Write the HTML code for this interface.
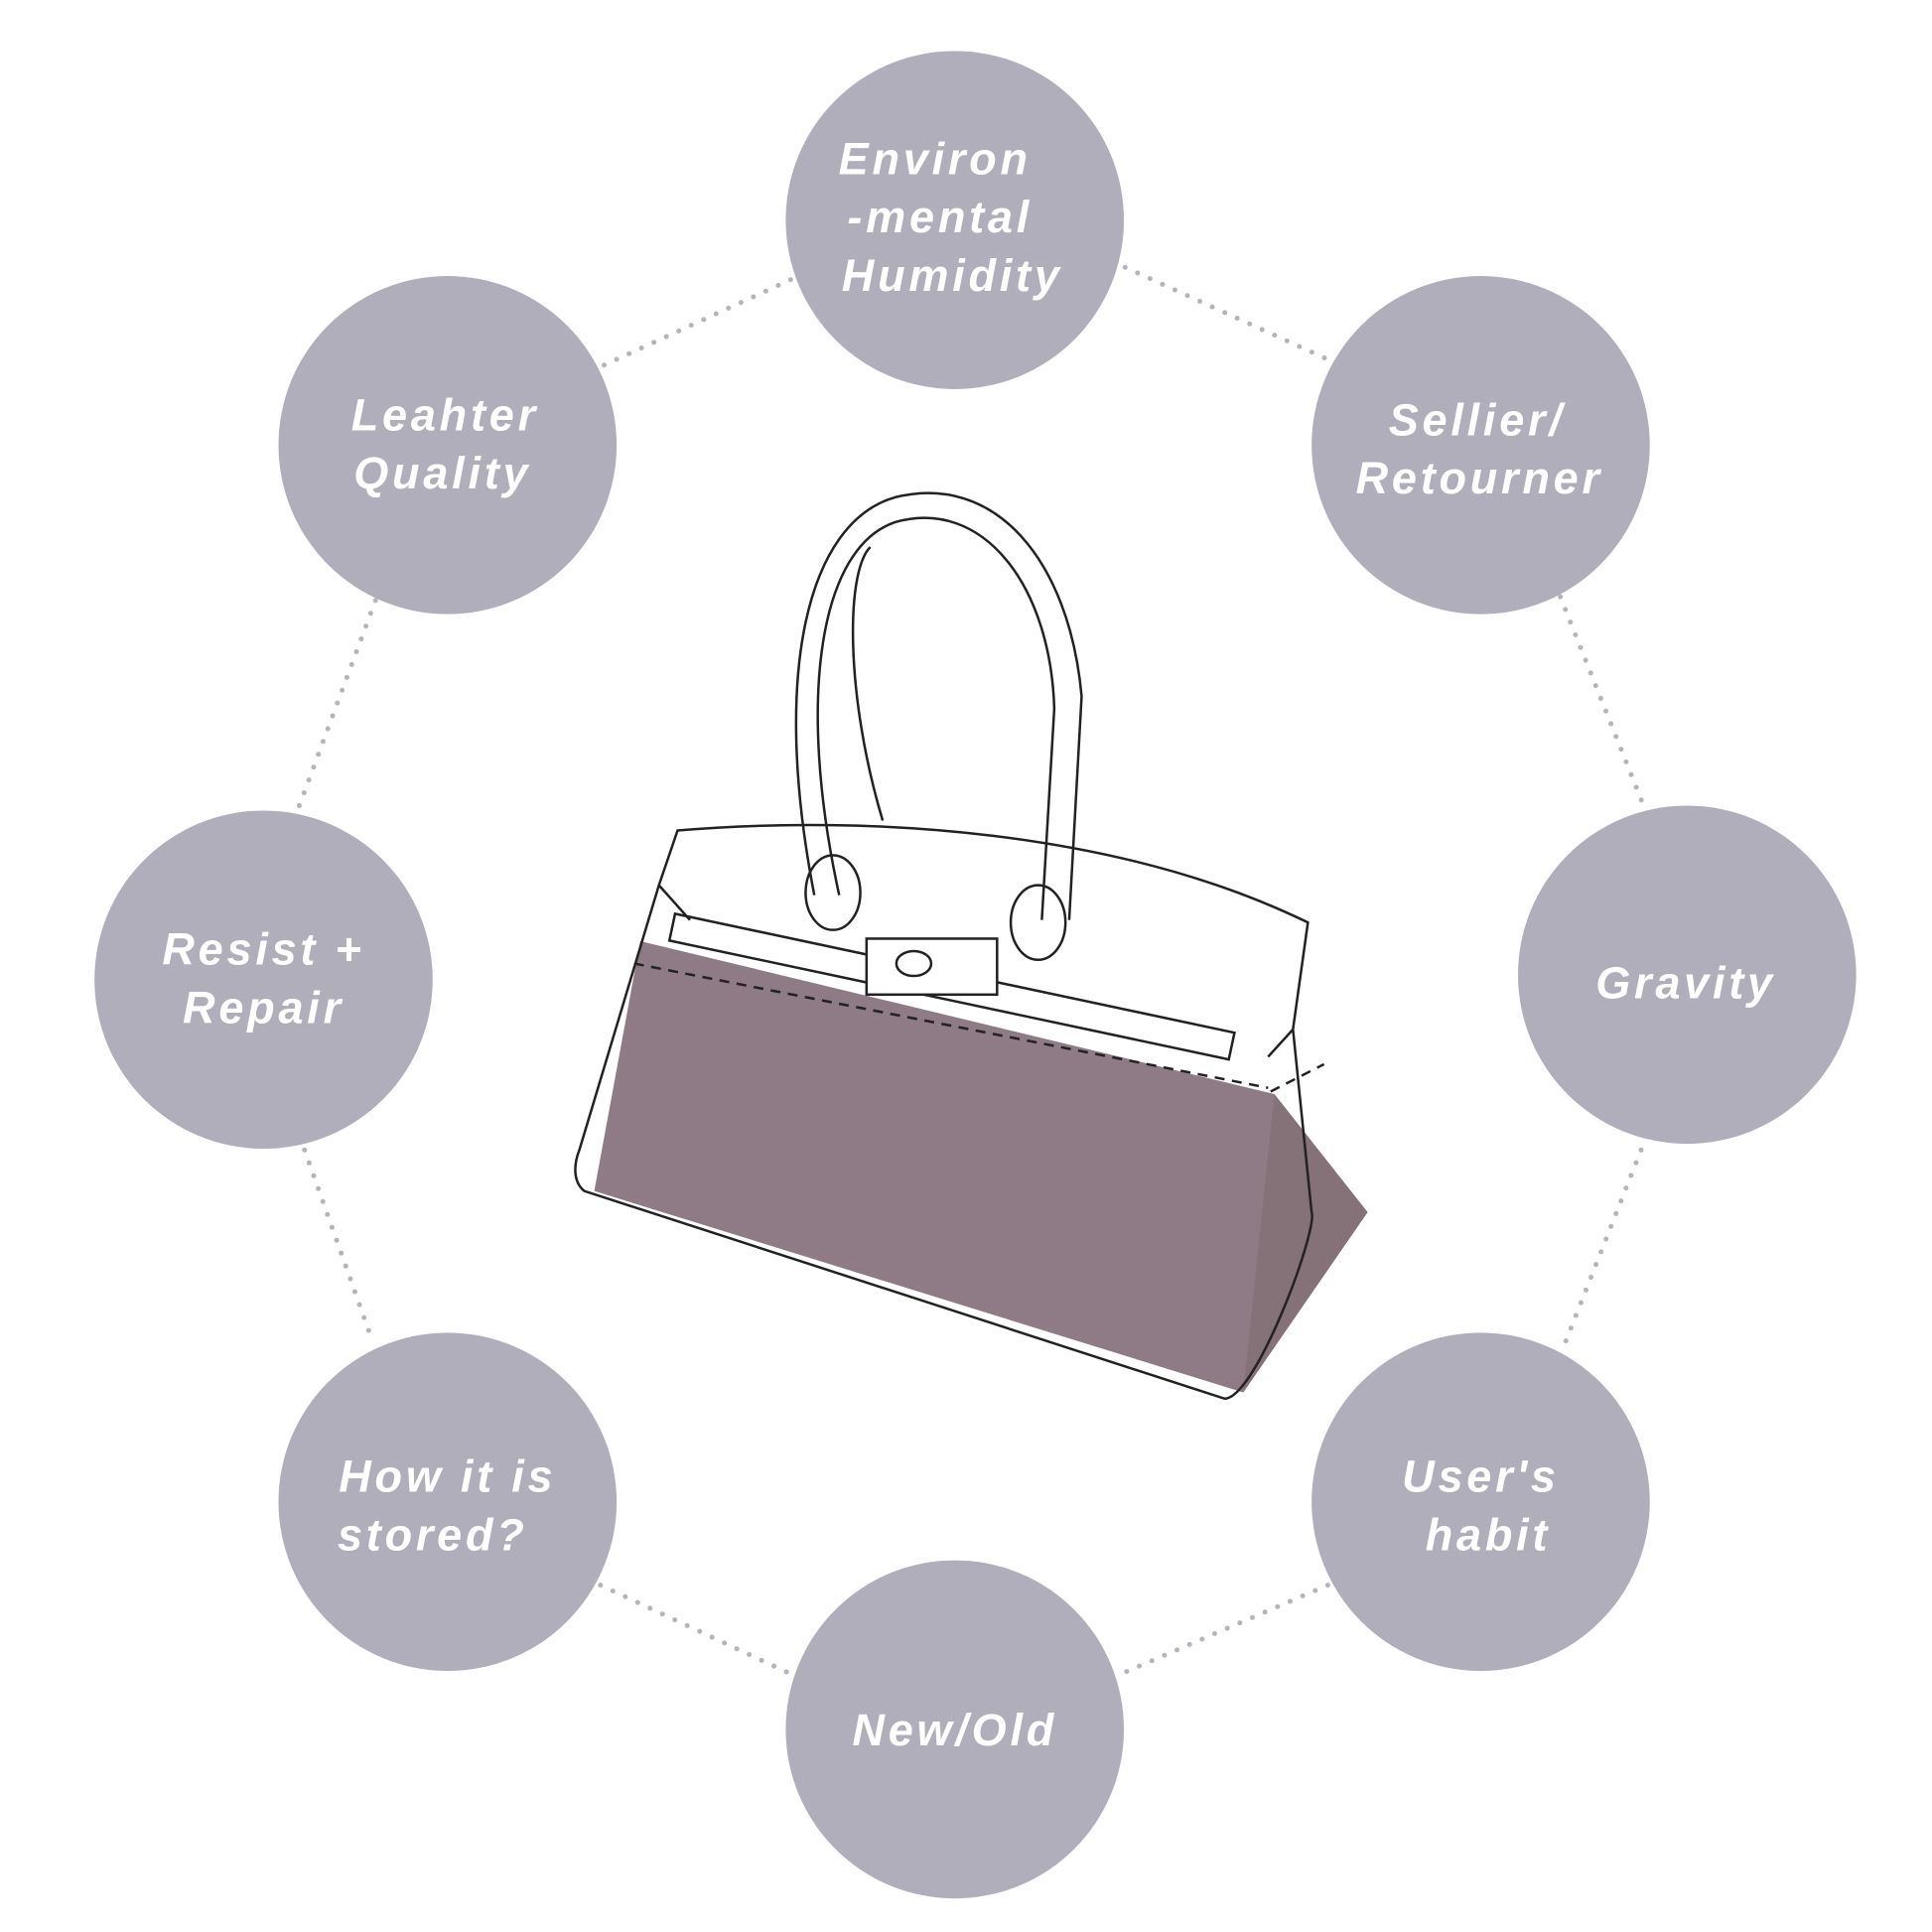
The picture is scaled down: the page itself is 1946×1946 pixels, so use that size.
<!DOCTYPE html>
<html><head><meta charset="utf-8"><style>
html,body{margin:0;padding:0;background:#fff;}
svg{display:block}
text{font-family:"Liberation Sans","DejaVu Sans",sans-serif;font-weight:bold;font-style:italic;fill:#fff;font-size:36px;letter-spacing:3px;text-anchor:middle}
</style></head><body>
<svg width="1946" height="1946" viewBox="0 0 1554 1554" xmlns="http://www.w3.org/2000/svg">
<g stroke="#b4b4bc" stroke-width="4" stroke-linecap="round" stroke-dasharray="0 11" fill="none">
<line x1="636" y1="225" x2="483" y2="295"/>
<line x1="905" y1="215" x2="1070" y2="290"/>
<line x1="302" y1="483" x2="240" y2="650"/>
<line x1="1255" y1="480" x2="1322" y2="648"/>
<line x1="245" y1="925" x2="300" y2="1080"/>
<line x1="1320" y1="925" x2="1257" y2="1085"/>
<line x1="483" y1="1275" x2="633" y2="1345"/>
<line x1="1068" y1="1275" x2="905" y2="1345"/>
</g>
<g fill="#b0aebb">
<circle cx="768" cy="177" r="136"/>
<circle cx="360" cy="358" r="136"/>
<circle cx="1191" cy="358" r="136"/>
<circle cx="212" cy="788" r="136"/>
<circle cx="1357" cy="784" r="136"/>
<circle cx="360" cy="1208" r="136"/>
<circle cx="1191" cy="1208" r="136"/>
<circle cx="768" cy="1391" r="136"/>
</g>
<text x="752" y="140">Environ</text>
<text x="756" y="187">-mental</text>
<text x="766" y="234">Humidity</text>
<text x="358" y="346">Leahter</text>
<text x="356" y="393">Quality</text>
<text x="1188" y="350">Sellier/</text>
<text x="1190" y="397">Retourner</text>
<text x="212" y="776">Resist +</text>
<text x="212" y="823">Repair</text>
<text x="1356" y="803">Gravity</text>
<text x="360" y="1200">How it is</text>
<text x="348" y="1247">stored?</text>
<text x="1191" y="1200">User's</text>
<text x="1197" y="1247">habit</text>
<text x="768" y="1404">New/Old</text>
<!-- bag -->
<g fill="none" stroke="#222" stroke-width="2">
<path d="M655,720 C620,540 650,420 720,400 C800,380 860,450 870,560 L860,740"/>
<path d="M675,720 C640,560 660,440 720,420 C790,400 845,470 848,570 L838,740"/>
<path d="M710,660 C680,560 680,460 700,440"/>
</g>
<path d="M515,757 L1025,880 L1100,975 L1000,1120 L478,958 Z" fill="#8e7b85"/>
<path d="M1025,880 L1100,975 L1000,1120 Z" fill="#857279"/>
<g fill="none" stroke="#222" stroke-width="2">
<path d="M545,668 C700,655 900,668 1052,742 L1040,828 L1055,975 C1060,990 1010,1125 985,1125 L470,958 C460,950 462,935 466,925 L530,712 Z"/>
<path d="M530,712 L555,740 M1040,828 L1020,850"/>
<rect x="543" y="735" width="460" height="22" transform="rotate(12 543 735)"/>
<rect x="697" y="755" width="105" height="45" fill="#fff"/>
<ellipse cx="735" cy="775" rx="14" ry="10"/>
<ellipse cx="670" cy="718" rx="22" ry="30"/>
<ellipse cx="835" cy="742" rx="22" ry="30"/>
<path d="M510,775 L1020,875" stroke-dasharray="8 6"/>
<path d="M1022,878 L1065,856" stroke-dasharray="8 6"/>
</g>
</svg>
</body></html>
